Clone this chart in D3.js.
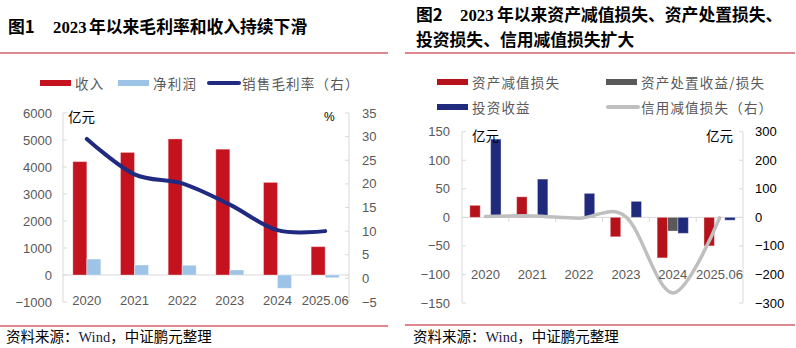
<!DOCTYPE html>
<html>
<head>
<meta charset="utf-8">
<script src="https://cdn.jsdelivr.net/npm/d3@7"></script>
<style>
  body { margin: 0; background: #fff; }
  svg { display: block; }
  text { font-family: "Liberation Sans", Arial, sans-serif; }
  .cjk { font-family: "Noto Sans CJK SC", sans-serif; }
</style>
</head>
<body>
<svg id="chart" width="796" height="348"></svg>
<script>
// chart 1 data
const years = ["2020", "2021", "2022", "2023", "2024", "2025.06"];
const revenue = [4200, 4540, 5040, 4660, 3430, 1050];
const netProfit = [590, 370, 360, 185, -490, -100];
const grossMargin = [29.5, 22.0, 20.1, 15.6, 10.2, 10.0];
const left1Ticks = [-1000, 0, 1000, 2000, 3000, 4000, 5000, 6000];
const right1Ticks = [-5, 0, 5, 10, 15, 20, 25, 30, 35];

// chart 2 data
const impairLoss = [21, 36, -2, -34, -71, -50];
const disposal = [0, 0, 0, 0, -24, 0];
const investIncome = [137, 67, 42, 28, -28, -5];
const creditLoss = [3, 5, -3, 2, -265, -2];
const left2Ticks = [-150, -100, -50, 0, 50, 100, 150];
const right2Ticks = [-300, -200, -100, 0, 100, 200, 300];

const svg = d3.select("#chart");
const axisColor = "#d9d9d9";
const labelColor = "#595959";
const fmt = v => v < 0 ? "\u2212" + Math.abs(v) : String(v);

function title(x, y, lead, num, numX, rest, restX) {
    const t = svg.append("text").attr("y", y).attr("font-size", 16.8).attr("font-weight", "bold").attr("fill", "#000");
    t.append("tspan").attr("x", x).attr("class", "cjk").text(lead);
    if (num) {
        t.append("tspan").attr("x", numX).style("font-family", "'Liberation Serif', serif").text(num);
    }
    t.append("tspan").attr("x", restX).attr("class", "cjk").text(rest);
}

function source(x, lineX0, lineX1, lineY) {
    svg.append("line").attr("x1", lineX0).attr("x2", lineX1).attr("y1", lineY).attr("y2", lineY)
        .attr("stroke", "#c0101e").attr("stroke-width", 1);
    const t = svg.append("text").attr("x", x).attr("y", 342).attr("font-size", 14.5).attr("fill", "#000");
    t.append("tspan").attr("class", "cjk").text("资料来源：");
    t.append("tspan").style("font-family", "'Liberation Serif', serif").attr("fill", "#1a1a40").text("Wind");
    t.append("tspan").attr("class", "cjk").text("，中证鹏元整理");
}

function legendItem(x, y, color, label, isLine) {
    if (isLine) {
        svg.append("line").attr("x1", x + 2).attr("x2", x + 32).attr("y1", y).attr("y2", y)
            .attr("stroke", color).attr("stroke-width", 4).attr("stroke-linecap", "round");
    } else {
        svg.append("rect").attr("x", x).attr("y", y - 3).attr("width", 31).attr("height", 6).attr("fill", color);
    }
    svg.append("text").attr("class", "cjk").attr("x", x + 35).attr("y", y)
        .attr("dominant-baseline", "central").attr("font-size", 13.5).attr("fill", labelColor)
        .attr("letter-spacing", 1.2).text(label);
}

function yAxis(scale, ticks, x, inward, labelX, anchor, color) {
    const g = svg.append("g");
    g.append("line").attr("x1", x).attr("x2", x).attr("y1", scale.range()[0]).attr("y2", scale.range()[1])
        .attr("stroke", axisColor);
    ticks.forEach(v => {
        g.append("line").attr("x1", x).attr("x2", x + inward).attr("y1", scale(v)).attr("y2", scale(v))
            .attr("stroke", axisColor);
        g.append("text").attr("x", labelX).attr("y", scale(v)).attr("text-anchor", anchor)
            .attr("dominant-baseline", "central").attr("font-size", 13).attr("fill", color).text(fmt(v));
    });
}

/* ---------- chart 1 ---------- */
title(8, 33, "图1", "2023", 53, "年以来毛利率和收入持续下滑", 89);
svg.append("line").attr("x1", 0).attr("x2", 388).attr("y1", 53).attr("y2", 53).attr("stroke", "#c0101e");

legendItem(40, 83, "#c4121f", "收入", false);
legendItem(118, 83, "#9dc3e6", "净利润", false);
legendItem(207, 83, "#1f2a80", "销售毛利率（右）", true);

const x1 = d3.scaleBand().domain(years).range([63, 349]);
const x1Sub = d3.scaleBand().domain(["rev", "np"]).range([-14, 14]);
const yL1 = d3.scaleLinear().domain([-1000, 6000]).range([302, 113]);
const yR1 = d3.scaleLinear().domain([-5, 35]).range([302, 113]);

yAxis(yL1, left1Ticks, 63, 4, 52, "end", labelColor);
yAxis(yR1, right1Ticks, 349, -4, 362, "start", labelColor);
svg.append("line").attr("x1", 63).attr("x2", 349).attr("y1", yL1(0)).attr("y2", yL1(0)).attr("stroke", axisColor);

const rows1 = years.map((y, i) => ({ year: y, rev: revenue[i], np: netProfit[i] }));
[["rev", "#c4121f"], ["np", "#9dc3e6"]].forEach(([k, c]) => {
    svg.selectAll(".bar1-" + k).data(rows1).enter().append("rect")
        .attr("x", d => x1(d.year) + x1.bandwidth() / 2 + x1Sub(k))
        .attr("y", d => yL1(Math.max(0, d[k])))
        .attr("width", x1Sub.bandwidth())
        .attr("height", d => Math.abs(yL1(d[k]) - yL1(0)))
        .attr("fill", c).attr("stroke", "rgba(255,255,255,0.35)").attr("stroke-width", 1);
});

const line1 = d3.line().x((d, i) => x1(years[i]) + x1.bandwidth() / 2).y(d => yR1(d)).curve(d3.curveCardinal);
svg.append("path").datum(grossMargin).attr("d", line1).attr("fill", "none")
    .attr("stroke", "#1f2a80").attr("stroke-width", 4).attr("stroke-linecap", "round");

years.forEach(y => {
    svg.append("text").attr("x", x1(y) + x1.bandwidth() / 2).attr("y", 300).attr("text-anchor", "middle")
        .attr("dominant-baseline", "central").attr("font-size", 13).attr("fill", labelColor).text(y);
});
svg.append("text").attr("class", "cjk").attr("x", 68).attr("y", 116).attr("dominant-baseline", "central")
    .attr("font-size", 13.5).attr("fill", "#000").text("亿元");
svg.append("text").attr("x", 324).attr("y", 117).attr("dominant-baseline", "central")
    .attr("font-size", 12).attr("fill", "#000").text("%");

source(6, 0, 388, 326);

/* ---------- chart 2 ---------- */
title(416, 21, "图2", "2023", 460, "年以来资产减值损失、资产处置损失、", 497);
title(416, 46, "投资损失、信用减值损失扩大", null, 0, "", 416);
svg.append("line").attr("x1", 405).attr("x2", 795).attr("y1", 53).attr("y2", 53).attr("stroke", "#c0101e");

legendItem(437, 82, "#b5121b", "资产减值损失", false);
legendItem(606, 82, "#595959", "资产处置收益/损失", false);
legendItem(437, 107, "#1f2a7c", "投资收益", false);
legendItem(606, 107, "#bfbfbf", "信用减值损失（右）", true);

const x2 = d3.scaleBand().domain(years).range([462, 743]);
const x2Sub = d3.scaleBand().domain(["imp", "dis", "inv"]).range([-15.6, 15.6]);
const yL2 = d3.scaleLinear().domain([-150, 150]).range([303, 131.7]);
const yR2 = d3.scaleLinear().domain([-300, 300]).range([303, 131.7]);

yAxis(yL2, left2Ticks, 462, 4, 450, "end", labelColor);
yAxis(yR2, right2Ticks, 743, -4, 755, "start", "#000");
svg.append("line").attr("x1", 462).attr("x2", 743).attr("y1", yL2(0)).attr("y2", yL2(0)).attr("stroke", axisColor);
years.forEach((y, i) => {
    if (i > 0) {
        svg.append("line").attr("x1", x2(y)).attr("x2", x2(y)).attr("y1", yL2(0)).attr("y2", yL2(0) + 5)
            .attr("stroke", axisColor);
    }
});

const rows2 = years.map((y, i) => ({ year: y, imp: impairLoss[i], dis: disposal[i], inv: investIncome[i] }));
[["imp", "#b5121b"], ["dis", "#595959"], ["inv", "#1f2a7c"]].forEach(([k, c]) => {
    svg.selectAll(".bar2-" + k).data(rows2.filter(d => d[k] !== 0)).enter().append("rect")
        .attr("x", d => x2(d.year) + x2.bandwidth() / 2 + x2Sub(k))
        .attr("y", d => yL2(Math.max(0, d[k])))
        .attr("width", x2Sub.bandwidth())
        .attr("height", d => Math.abs(yL2(d[k]) - yL2(0)))
        .attr("fill", c).attr("stroke", "rgba(255,255,255,0.35)").attr("stroke-width", 1);
});

const line2 = d3.line().x((d, i) => x2(years[i]) + x2.bandwidth() / 2).y(d => yR2(d)).curve(d3.curveCardinal);
svg.append("path").datum(creditLoss).attr("d", line2).attr("fill", "none")
    .attr("stroke", "#bfbfbf").attr("stroke-width", 3.5).attr("stroke-linecap", "round");

years.forEach(y => {
    svg.append("text").attr("x", x2(y) + x2.bandwidth() / 2).attr("y", 274).attr("text-anchor", "middle")
        .attr("dominant-baseline", "central").attr("font-size", 13).attr("fill", labelColor).text(y);
});
svg.append("text").attr("class", "cjk").attr("x", 472).attr("y", 135).attr("dominant-baseline", "central")
    .attr("font-size", 13.5).attr("fill", "#000").text("亿元");
svg.append("text").attr("class", "cjk").attr("x", 706).attr("y", 135).attr("dominant-baseline", "central")
    .attr("font-size", 13.5).attr("fill", "#000").text("亿元");

source(413, 405, 795, 325);
</script>
</body>
</html>
